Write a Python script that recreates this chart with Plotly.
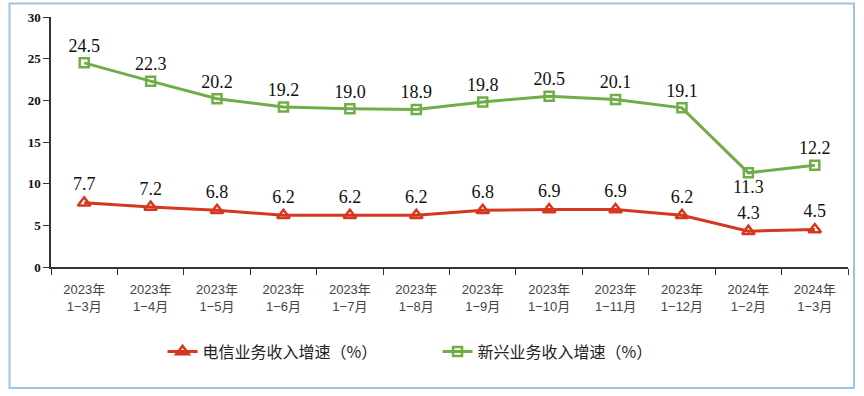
import plotly.graph_objects as go

categories = ["2023年<br>1−3月", "2023年<br>1−4月", "2023年<br>1−5月", "2023年<br>1−6月",
              "2023年<br>1−7月", "2023年<br>1−8月", "2023年<br>1−9月", "2023年<br>1−10月",
              "2023年<br>1−11月", "2023年<br>1−12月", "2024年<br>1−2月", "2024年<br>1−3月"]
telecom = [7.7, 7.2, 6.8, 6.2, 6.2, 6.2, 6.8, 6.9, 6.9, 6.2, 4.3, 4.5]
emerging = [24.5, 22.3, 20.2, 19.2, 19.0, 18.9, 19.8, 20.5, 20.1, 19.1, 11.3, 12.2]
telecom_name = "电信业务收入增速（%）"
emerging_name = "新兴业务收入增速（%）"

red = "#D6381F"
green = "#70AD47"
serif = "Liberation Serif, Noto Sans CJK SC, serif"

em_pos = ["top center"] * len(emerging)
em_pos[10] = "bottom center"

fig = go.Figure()
fig.add_trace(go.Scatter(
    x=categories, y=telecom, name=telecom_name, mode="lines+markers+text",
    line=dict(color=red, width=3),
    marker=dict(symbol="triangle-up-open", size=11, color=red, line=dict(width=2.5, color=red)),
    text=[f"{v:.1f}" for v in telecom], textposition="top center",
    textfont=dict(family=serif, size=18, color="#111111"),
    cliponaxis=False,
))
fig.add_trace(go.Scatter(
    x=categories, y=emerging, name=emerging_name, mode="lines+markers+text",
    line=dict(color=green, width=3),
    marker=dict(symbol="square-open", size=9, color=green, line=dict(width=2.5, color=green)),
    text=[f"{v:.1f}" for v in emerging], textposition=em_pos,
    textfont=dict(family=serif, size=18, color="#111111"),
    cliponaxis=False,
))

L, R, T, B = 51, 864 - 848, 17, 396 - 267
W, H = 864 - L - R, 396 - T - B

fig.update_layout(
    width=864, height=396,
    margin=dict(l=L, r=R, t=T, b=B, autoexpand=False),
    paper_bgcolor="white", plot_bgcolor="white",
    showlegend=True,
    legend=dict(orientation="h", x=0.485, xanchor="center", y=-0.27, yanchor="top",
                font=dict(family="Noto Sans CJK SC, sans-serif", size=16, color="#222222"),
                entrywidth=230, tracegroupgap=0),
    xaxis=dict(
        type="category", tickson="boundaries", ticks="outside", ticklen=6, tickcolor="#333333",
        showline=True, linecolor="#333333", linewidth=1.5, showgrid=False, automargin=False,
        ticklabelstandoff=10,
        tickfont=dict(family="Liberation Sans, Noto Sans CJK SC, sans-serif", size=13, color="#444444"),
        range=[-0.5, 11.5], fixedrange=True,
    ),
    yaxis=dict(
        range=[0, 30], dtick=5, ticks="outside", ticklen=6, tickcolor="#333333", automargin=False,
        showline=True, linecolor="#333333", linewidth=1.5, showgrid=False, zeroline=False,
        tickfont=dict(family="Liberation Serif, serif", size=13, color="#111111", weight="bold"),
    ),
    shapes=[dict(
        type="rect", xref="paper", yref="paper",
        x0=(9.5 - L) / W, x1=(854 - L) / W,
        y0=(T + H - 388) / H, y1=(T + H - 3.5) / H,
        line=dict(color="#9DC3E6", width=2), fillcolor="rgba(0,0,0,0)", layer="below",
    )],
)

fig.write_html("out.html", config={"displayModeBar": False},
               post_script="document.body.style.margin='0';")
